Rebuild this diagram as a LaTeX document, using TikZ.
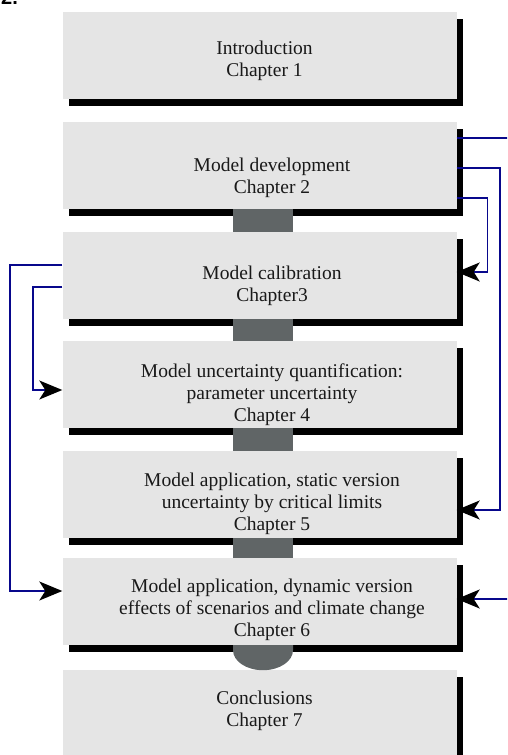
\documentclass[tikz,border=0pt]{standalone}
\usepackage{fontspec}
\setmainfont{Liberation Serif}
\setsansfont{Liberation Sans}
\usepackage{xcolor}
\usepackage{tikz}
\usetikzlibrary{shapes.geometric, arrows, arrows.meta}
\usetikzlibrary{positioning, shadows}
\definecolor{boxgray}{RGB}{229,229,229}
\definecolor{linkgray}{RGB}{96,101,102}
\definecolor{linkblue}{RGB}{8,8,140}
\tikzstyle{chapbox} = [rectangle, minimum width=394pt, minimum height=87pt, inner sep=0pt, fill=boxgray, drop shadow={shadow xshift=6.5pt, shadow yshift=-7pt, opacity=1, fill=black}]
\tikzstyle{chaptext} = [align=center, inner sep=0pt, text=black!90, font=\fontsize{19.5}{22}\selectfont]
\tikzstyle{arrow} = [line width=1.5pt, draw=linkblue, -{Stealth[length=23pt, width=19pt, inset=6pt, color=black]}]

\begin{document}
\begin{tikzpicture}[x=1pt, y=-1pt]
		\useasboundingbox (0,0) rectangle (507,755);
		\clip (0,0) rectangle (507,755);
		\coordinate (intro) at (259.5,55.5);
		\coordinate (devel) at (259.5,165.5);
		\coordinate (calib) at (259.5,275.5);
		\coordinate (uncert) at (259.5,384.5);
		\coordinate (static) at (259.5,494.5);
		\coordinate (dynamic) at (259.5,601.5);
		\coordinate (concl) at (259.5,713.5);
		% Figure number
		\node[name=fignum, anchor=base west, inner sep=0pt, font=\sffamily\bfseries\fontsize{20}{24}\selectfont] at (1,4) {2.};
		% Chapter boxes
		\begin{scope}[every node/.style={chapbox}]
		\node[name=intro] at (intro) {};
		\node[name=devel] at (devel) {};
		\node[name=calib] at (calib) {};
		\node[name=uncert] at (uncert) {};
		\node[name=static] at (static) {};
		\node[name=dynamic] at (dynamic) {};
		\node[name=concl] at (concl) {};
		\end{scope}
		% Grey links between the boxes
		\fill[linkgray] ([xshift=-26.5pt]devel.south) rectangle ([xshift=33.5pt]calib.north);
		\fill[linkgray] ([xshift=-26.5pt]calib.south) rectangle ([xshift=33.5pt]uncert.north);
		\fill[linkgray] ([xshift=-26.5pt]uncert.south) rectangle ([xshift=33.5pt]static.north);
		\fill[linkgray] ([xshift=-26.5pt]static.south) rectangle ([xshift=33.5pt]dynamic.north);
		\fill[linkgray] ([xshift=-26.5pt]dynamic.south) -- ++(0,5) arc[start angle=180, end angle=360, x radius=30pt, y radius=20pt] -- ([xshift=33.5pt]dynamic.south) -- cycle;
		% Chapter titles
		\begin{scope}[every node/.style={chaptext}]
		\node[name=introtext] at ([xshift=5pt, yshift=-5pt]intro) {Introduction\\Chapter 1};
		\node[name=develtext] at ([xshift=12.5pt, yshift=-12pt]devel) {Model development\\Chapter 2};
		\node[name=calibtext] at ([xshift=12.5pt, yshift=-10pt]calib) {Model calibration\\Chapter3};
		\node[name=uncerttext] at ([xshift=12.5pt, yshift=-10pt]uncert) {Model uncertainty quantification:\\parameter uncertainty\\Chapter 4};
		\node[name=statictext] at ([xshift=12.5pt, yshift=-9pt]static) {Model application, static version\\uncertainty by critical limits\\Chapter 5};
		\node[name=dynamictext] at ([xshift=12.5pt, yshift=-8pt]dynamic) {Model application, dynamic version\\effects of scenarios and climate change\\Chapter 6};
		\node[name=concltext] at ([xshift=5pt, yshift=3pt]concl) {Conclusions\\Chapter 7};
		\end{scope}
		% Feedback arrows
		\draw [arrow] ([yshift=27.5pt]devel.east) -- ++(70,0) |- ([yshift=2.5pt]dynamic.east);
		\draw [arrow] ([yshift=-2.5pt]devel.east) -- ++(43.5,0) |- ([yshift=-15.5pt]static.east);
		\draw [arrow] ([yshift=-32.5pt]devel.east) -- ++(31,0) |- ([yshift=3.5pt]calib.east);
		\draw [arrow] ([yshift=10.5pt]calib.west) -- ++(-52.5,0) |- ([yshift=10.5pt]dynamic.west);
		\draw [arrow] ([yshift=-11.5pt]calib.west) -- ++(-29.5,0) |- ([yshift=-5.5pt]uncert.west);
\end{tikzpicture}
\end{document}
